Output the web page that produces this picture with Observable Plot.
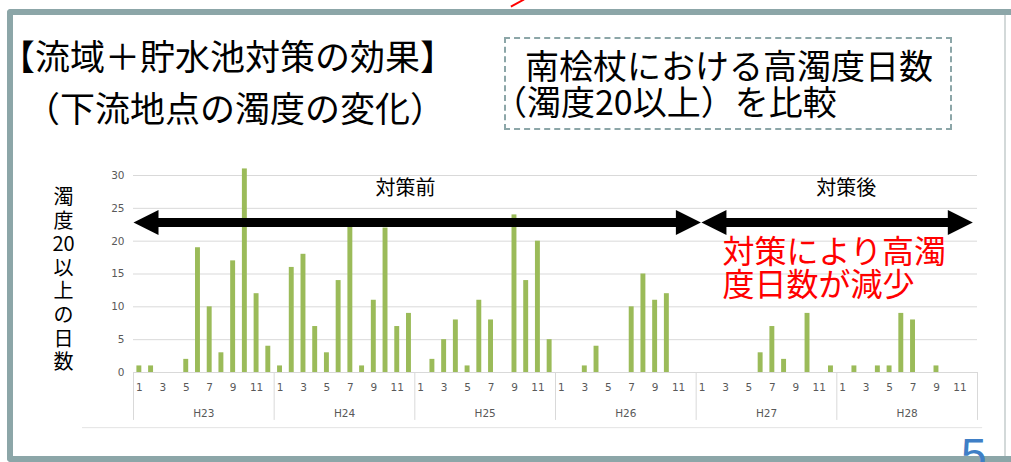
<!DOCTYPE html>
<html><head><meta charset="utf-8">
<script src="https://cdn.jsdelivr.net/npm/d3@7"></script>
<script src="https://cdn.jsdelivr.net/npm/@observablehq/plot@0.6"></script>
<style>
html,body{margin:0;padding:0;background:#fff;}
#slide{position:relative;width:1011px;height:462px;overflow:hidden;font-family:"Noto Sans CJK JP",sans-serif;background:#fff;}
#frame{position:absolute;left:7px;top:9px;width:1100px;height:441px;border:6px solid #8ca6a8;border-right:none;border-radius:4px 0 0 4px;}
#rline{position:absolute;left:1004px;top:15px;width:2px;height:441px;background:#d3d9d9;}
#redmark{position:absolute;left:510px;top:2px;width:15px;height:2px;background:#ff0000;transform:rotate(-28deg);}
#chart{position:absolute;left:0;top:0;}
.t{position:absolute;white-space:nowrap;color:#000;line-height:1;}
#box{position:absolute;left:504px;top:37px;width:444px;height:89px;border:2px dashed #8ca6a8;}
#pg{position:absolute;left:961px;top:432px;font-family:"Liberation Sans",Arial,sans-serif;font-size:46px;line-height:46px;color:#3f7fc6;}
</style></head><body>
<div id="slide">
  <div id="frame"></div>
  <div id="rline"></div>
  <div id="redmark"></div>
  <div id="box"></div>
  <div id="chart"></div>
  <div class="t" style="left:0px;top:37px;font-size:35px">【流域＋貯水池対策の効果】</div>
  <div class="t" style="left:25px;top:89px;font-size:35px">（下流地点の濁度の変化）</div>
  <div class="t" style="left:525px;top:48px;font-size:34px">南桧杖における高濁度日数</div>
  <div class="t" style="left:493px;top:84px;font-size:34px">（濁度20以上）を比較</div>
  <div id="pg">5</div>
</div>
<script>
// ---- data ----
const years = ["H23", "H24", "H25", "H26", "H27", "H28"];
const monthTicks = [1, 3, 5, 7, 9, 11];
const yTicks = [0, 5, 10, 15, 20, 25, 30];
const vH23 = [1, 1, 0, 0, 2, 19, 10, 3, 17, 31, 12, 4];
const vH24 = [1, 16, 18, 7, 3, 14, 23, 1, 11, 22, 7, 9];
const vH25 = [0, 2, 5, 8, 1, 11, 8, 0, 24, 14, 20, 5];
const vH26 = [0, 0, 1, 4, 0, 0, 10, 15, 11, 12, 0, 0];
const vH27 = [0, 0, 0, 0, 0, 3, 7, 2, 0, 9, 0, 1];
const vH28 = [0, 1, 0, 1, 1, 9, 8, 0, 1, 0, 0, 0];
const yLabel = "濁\n度\n20\n以\n上\nの\n日\n数";
const beforeLabel = "対策前";
const afterLabel = "対策後";
const noteLines = ["対策により高濁", "度日数が減少"];

// ---- build table ----
const series = [vH23, vH24, vH25, vH26, vH27, vH28];
const rows = years.flatMap((y, k) => series[k].map((v, m) => ({year: y, month: m + 1, i: k * 12 + m, v})));
const monthTickPos = years.flatMap((y, k) => monthTicks.map(m => k * 12 + m - 0.5));
const yearPos = years.map((y, k) => ({year: y, c: k * 12 + 6}));
const bounds = d3.range(0, 73, 12);

const headLeft = {draw(ctx) { ctx.moveTo(0, 0); ctx.lineTo(25, -12.5); ctx.lineTo(25, 12.5); ctx.closePath(); }};
const headRight = {draw(ctx) { ctx.moveTo(0, 0); ctx.lineTo(-25, -12.5); ctx.lineTo(-25, 12.5); ctx.closePath(); }};
const arrows = [{a: 0, b: 48.4}, {a: 48.45, b: 71.6}];
const ay = 22.85;
const font = "Noto Sans CJK JP, sans-serif";

const chart = Plot.plot({
  width: 1011, height: 462,
  marginTop: 175, marginBottom: 90, marginLeft: 133, marginRight: 34,
  x: {domain: [0, 72], axis: null},
  y: {domain: [0, 30], axis: null},
  style: {background: "transparent", fontFamily: "DejaVu Sans, sans-serif", overflow: "visible"},
  marks: [
    Plot.ruleY(yTicks, {x1: 0, x2: 72, stroke: "#d9d9d9", strokeWidth: 1}),
    Plot.ruleX(bounds, {y1: 0, y2: -7.3, stroke: "#d9d9d9"}),
    Plot.ruleY([-8.4], {x1: -4.35, x2: 72.44, stroke: "#e3e3e3"}),
    Plot.rectY(rows, {x1: d => d.i + 0.29, x2: d => d.i + 0.71, y: "v", fill: "#9bbb59"}),
    Plot.axisY(yTicks, {anchor: "left", tickSize: 0, tickPadding: 9, fill: "#595959", fontSize: 10.5, label: null}),
    Plot.axisX(monthTickPos, {anchor: "bottom", tickSize: 0, tickPadding: 11, fill: "#595959", fontSize: 10.5, label: null,
      tickFormat: d => String(Math.round(d + 0.5) % 12 === 0 ? 12 : Math.round(d + 0.5) % 12)}),
    Plot.text(yearPos, {x: "c", y: 0, dy: 41, text: "year", fill: "#595959", fontSize: 10.5}),
    Plot.text([yLabel], {frameAnchor: "left", textAnchor: "middle", dx: -70, dy: 5, text: d => d, fontSize: 20, lineHeight: 1.18, fill: "#000", fontFamily: font}),
    Plot.link(arrows, {x1: d => d.a + 2, x2: d => d.b - 2, y1: ay, y2: ay, stroke: "#000", strokeWidth: 9}),
    Plot.dot(arrows, {x: "a", y: ay, symbol: headLeft, fill: "#000", stroke: null}),
    Plot.dot(arrows, {x: "b", y: ay, symbol: headRight, fill: "#000", stroke: null}),
    Plot.text([beforeLabel], {x: 23.2, y: 28, text: d => d, fontSize: 20, fill: "#000", fontFamily: font}),
    Plot.text([afterLabel], {x: 60.8, y: 28, text: d => d, fontSize: 20, fill: "#000", fontFamily: font}),
    Plot.text(noteLines, {x: 50.25, y: (d, i) => 18.3 - 5.05 * i, text: d => d, textAnchor: "start", fontSize: 32, fill: "#ff0000", fontFamily: font})
  ]
});
document.getElementById("chart").appendChild(chart);
</script>
</body></html>
